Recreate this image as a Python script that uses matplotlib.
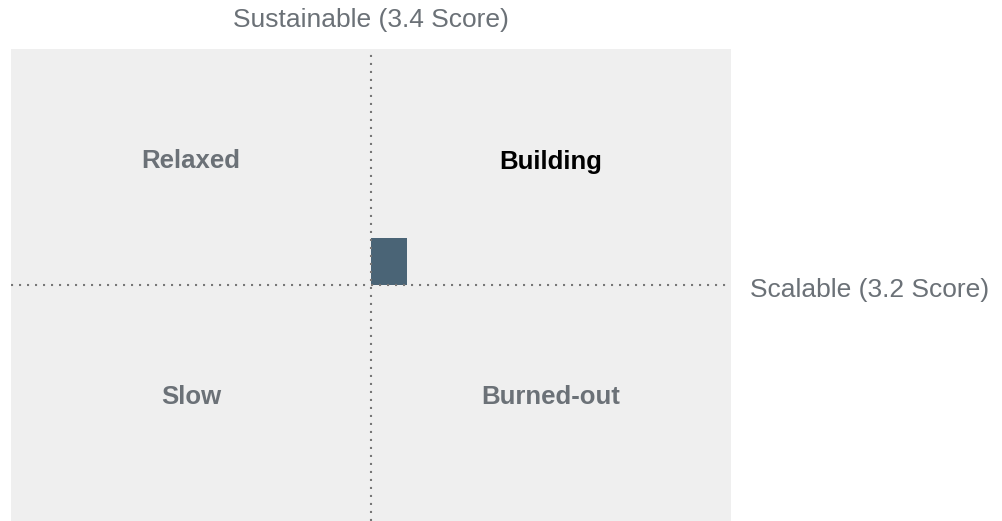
import matplotlib.pyplot as plt
from matplotlib.patches import Rectangle
from matplotlib.transforms import offset_copy

# Datos del cuadrante
x_min, x_max = 1, 5
y_min, y_max = 1, 5
x_mid, y_mid = 3, 3
score_scalable = 3.2
score_sustainable = 3.4

quadrant_names = ["Relaxed", "Building", "Slow", "Burned-out"]
quadrant_x = [2, 4, 2, 4]
quadrant_y = [4, 4, 2, 2]
highlight = "Building"

plt.rcParams['font.family'] = ['Liberation Sans', 'DejaVu Sans']

grey_text = "#6b7177"
fig = plt.figure(figsize=(10.03, 5.21), dpi=100)
ax = fig.add_axes([11 / 1003, 0, 720 / 1003, 472 / 521])
ax.set_facecolor("#efefef")
ax.set_xlim(x_min, x_max)
ax.set_ylim(y_min, y_max)
for s in ax.spines.values():
    s.set_visible(False)
ax.set_xticks([])
ax.set_yticks([])

# Marcador del puntaje
ax.add_patch(Rectangle((x_mid, y_mid), score_scalable - x_mid, score_sustainable - y_mid,
                       facecolor="#4a6476", edgecolor="none", zorder=2))

# Líneas punteadas
dots = (0, (1, 2.84))
ax.axvline(x_mid, color="#777777", lw=1.5, linestyle=dots, zorder=3)
ax.axhline(y_mid, color="#777777", lw=1.5, linestyle=dots, zorder=3)

lab_tr = offset_copy(ax.transData, fig=fig, x=0, y=-1.5, units="dots")
for name, qx, qy in zip(quadrant_names, quadrant_x, quadrant_y):
    ax.text(qx, qy, name, ha="center", va="baseline", fontsize=18.5, fontweight="bold",
            color="black" if name == highlight else grey_text, transform=lab_tr)

top_tr = offset_copy(ax.transData, fig=fig, x=0, y=21.5, units="dots")
ax.text(x_mid, y_max, f"Sustainable ({score_sustainable} Score)", transform=top_tr,
        ha="center", va="baseline", fontsize=19, color=grey_text, clip_on=False)
right_tr = offset_copy(ax.transData, fig=fig, x=19, y=-12, units="dots")
ax.text(x_max, y_mid, f"Scalable ({score_scalable} Score)", transform=right_tr,
        ha="left", va="baseline", fontsize=19, color=grey_text, clip_on=False)

fig.savefig("out.png", dpi=100)
